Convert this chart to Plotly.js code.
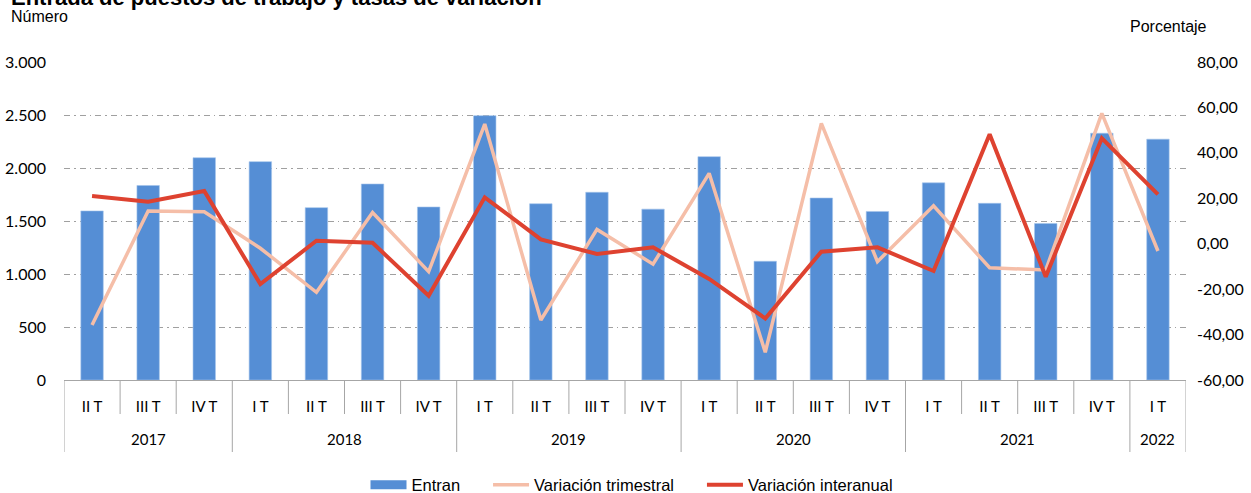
<!DOCTYPE html>
<html>
<head>
<meta charset="utf-8">
<script src="https://cdn.plot.ly/plotly-3.0.1.min.js"></script>
<style>
html,body{margin:0;padding:0;background:#fff;}
#chart{width:1251px;height:493px;}
</style>
</head>
<body>
<div id="chart"></div>
<script>
// ---- data ----
const periodYear = ['2017','2017','2017','2018','2018','2018','2018','2019','2019','2019','2019','2020','2020','2020','2020','2021','2021','2021','2021','2022'];
const periodQuarter = ['II T','III T','IV T','I T','II T','III T','IV T','I T','II T','III T','IV T','I T','II T','III T','IV T','I T','II T','III T','IV T','I T'];
const entran = [1595,1835,2097,2060,1626,1849,1632,2494,1663,1771,1612,2107,1120,1717,1590,1860,1667,1476,2328,2272];
const variacionTrimestral = [-35.8,14.4,14.1,-2.0,-21.4,13.7,-12.3,52.7,-33.6,6.3,-9.0,31.0,-47.8,53.0,-7.9,16.7,-10.6,-11.6,57.4,-3.2];
const variacionInteranual = [21.0,18.5,23.2,-17.8,1.3,0.4,-22.9,20.4,1.9,-4.5,-1.6,-15.5,-32.9,-3.5,-1.6,-12.0,48.2,-14.5,46.4,21.7];
const leftTicks = [0,500,1000,1500,2000,2500,3000];
const rightTicks = [-60,-40,-20,0,20,40,60,80];
const seriesNames = ['Entran','Variación trimestral','Variación interanual'];

// ---- derived ----
const leftText = leftTicks.map(v => v.toLocaleString('de-DE'));
const rightText = rightTicks.map(v => v.toFixed(2).replace('.', ','));
const catIds = periodYear.map((y, i) => y + ' ' + periodQuarter[i]);
const n = catIds.length;
const pad = '\u00A0\u00A0\u00A0\u00A0\u00A0';

const W = 1251, H = 493;
const M = {l:64, r:65, t:62, b:113};
const plotW = W - M.l - M.r;
const plotH = H - M.t - M.b;
const px2py = p => -(p) / plotH;   // pixels below axis -> paper y

const blue = 'rgb(85,142,213)';
const salmon = 'rgb(245,190,168)';
const red = 'rgb(222,66,48)';
const axisGray = '#A6A6A6';

// category-axis frame: short lines at every quarter boundary, long ones at year boundaries
const shapes = [];
const yearGroups = [];
periodYear.forEach((y, i) => {
  if (i === 0 || periodYear[i-1] !== y) yearGroups.push({year:y, start:i, end:i});
  else yearGroups[yearGroups.length-1].end = i;
});
const yearBounds = new Set();
yearGroups.forEach(g => { yearBounds.add(g.start - 0.5); yearBounds.add(g.end + 0.5); });
for (let k = 0; k <= n; k++) {
  const xb = k - 0.5;
  const long = yearBounds.has(xb);
  shapes.push({type:'line', xref:'x', yref:'paper', x0:xb, x1:xb, y0:0, y1:px2py(long ? 72 : 34),
               line:{color:axisGray, width:1}});
}
const yearAnnotations = yearGroups.map(g => ({
  xref:'x', yref:'paper', x:(g.start + g.end)/2, y:px2py(59), xanchor:'center', yanchor:'middle',
  showarrow:false, text:g.year, font:{family:'Lato, sans-serif', size:15, color:'#000'}
}));

const traces = [
  {type:'bar', x:catIds, y:entran, name:seriesNames[0], marker:{color:blue, line:{color:'rgb(165,196,235)', width:0.6}},
   yaxis:'y', showlegend:false, hoverinfo:'skip'},
  {type:'scatter', mode:'lines', x:[null], y:[null], name:seriesNames[0] + pad, line:{color:blue, width:9}, yaxis:'y', hoverinfo:'skip'},
  {type:'scatter', mode:'lines', x:catIds, y:variacionTrimestral, name:seriesNames[1] + pad, line:{color:salmon, width:3.5}, yaxis:'y2'},
  {type:'scatter', mode:'lines', x:catIds, y:variacionInteranual, name:seriesNames[2], line:{color:red, width:4}, yaxis:'y2'}
];

const layout = {
  width:W, height:H,
  margin:M,
  paper_bgcolor:'#fff', plot_bgcolor:'#fff',
  bargap:0.6,
  font:{family:'Liberation Sans, Arial, sans-serif', color:'#000'},
  xaxis:{
    type:'category', categoryorder:'array', categoryarray:catIds,
    range:[-0.5, n - 0.5], automargin:false,
    tickvals:catIds, ticktext:periodQuarter, ticks:'',
    showline:true, linecolor:axisGray, linewidth:1,
    tickfont:{family:'Lato, sans-serif', size:15, color:'#000'},
    ticklabelstandoff:13,
    showgrid:false, zeroline:false, fixedrange:true
  },
  yaxis:{
    range:[0,3000], tickvals:leftTicks, ticktext:leftText, automargin:false,
    showgrid:true, gridcolor:'#A0A0A0', gridwidth:1, griddash:'6px,4px,1.5px,4px',
    zeroline:false, showline:false, ticks:'',
    tickfont:{family:'Lato, sans-serif', size:16, color:'#000'},
    ticklabelstandoff:17, fixedrange:true
  },
  yaxis2:{
    overlaying:'y', side:'right', automargin:false,
    range:[-60,80], tickvals:rightTicks, ticktext:rightText,
    showgrid:false, zeroline:false, showline:false, ticks:'',
    tickfont:{family:'Lato, sans-serif', size:16, color:'#000'},
    ticklabelstandoff:10, fixedrange:true
  },
  legend:{
    orientation:'h', xref:'paper', x:(632 - M.l)/plotW, xanchor:'center',
    yref:'container', y:(H - 485)/H, yanchor:'middle',
    font:{family:'Liberation Sans, Arial, sans-serif', size:16.5, color:'#000'},
    itemwidth:36, tracegroupgap:0, bgcolor:'rgba(0,0,0,0)'
  },
  shapes:shapes,
  annotations:[
    {xref:'paper', yref:'paper', x:(9 - M.l)/plotW, y:1 + (M.t - 12)/plotH, xanchor:'left', yanchor:'bottom', showarrow:false,
     text:'<b>Entrada de puestos de trabajo y tasas de variación</b>', font:{size:22, family:'Liberation Sans, Arial, sans-serif'}},
    {xref:'paper', yref:'paper', x:(9 - M.l)/plotW, y:1 + (M.t - 17)/plotH, xanchor:'left', yanchor:'middle', showarrow:false,
     text:'Número', font:{size:16, family:'Liberation Sans, Arial, sans-serif'}},
    {xref:'paper', yref:'paper', x:(1209 - M.l)/plotW, y:1 + (M.t - 27)/plotH, xanchor:'right', yanchor:'middle', showarrow:false,
     text:'Porcentaje', font:{size:16, family:'Liberation Sans, Arial, sans-serif'}}
  ].concat(yearAnnotations)
};

Plotly.newPlot('chart', traces, layout, {displayModeBar:false, staticPlot:true});
</script>
</body>
</html>
